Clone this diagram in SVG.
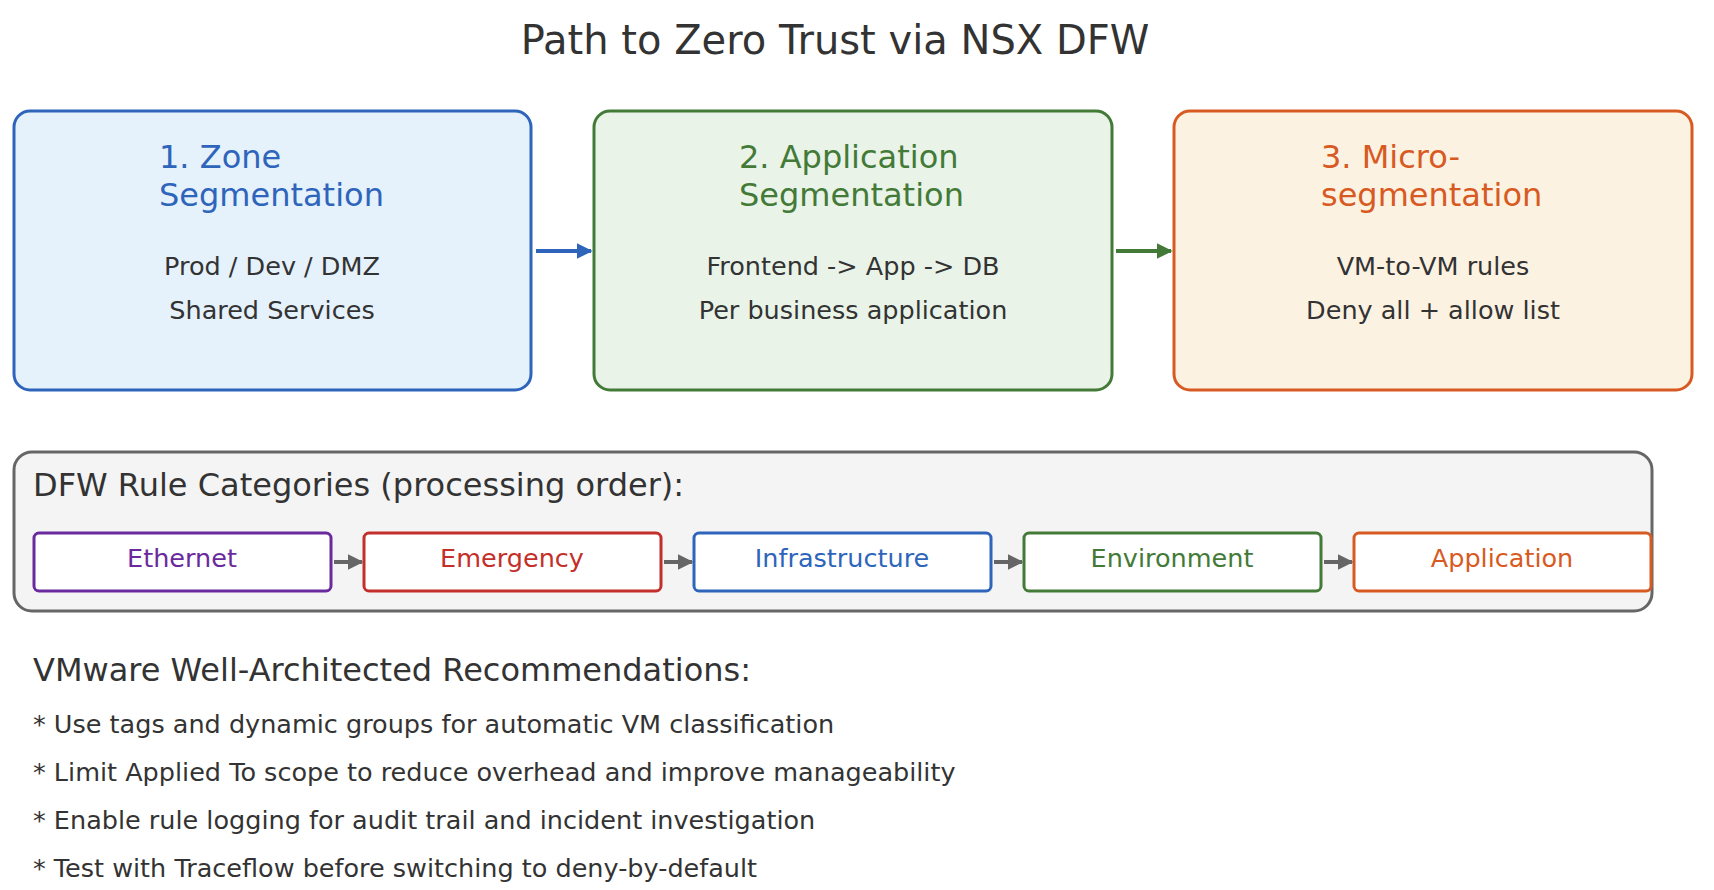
<svg xmlns="http://www.w3.org/2000/svg" width="1714" height="890" viewBox="0 0 1714 890">
<style>
text{font-family:"DejaVu Sans",sans-serif;fill:#333}
.t{font-size:32px}
.b{font-size:25.5px;text-anchor:middle}
.c{font-size:25.5px;text-anchor:middle;dominant-baseline:central}
.chip{fill:#fff;stroke-width:3}
</style>
<defs>
<marker id="ab" viewBox="0 0 10 10" refX="9" refY="5" markerWidth="4" markerHeight="4" orient="auto"><path d="M0,0L10,5L0,10z" fill="#2e65bb"/></marker>
<marker id="ag" viewBox="0 0 10 10" refX="9" refY="5" markerWidth="4" markerHeight="4" orient="auto"><path d="M0,0L10,5L0,10z" fill="#437a37"/></marker>
<marker id="ay" viewBox="0 0 10 10" refX="9" refY="5" markerWidth="4" markerHeight="4" orient="auto"><path d="M0,0L10,5L0,10z" fill="#666"/></marker>
</defs>
<rect width="1714" height="890" fill="#fff"/>
<text x="835" y="54" text-anchor="middle" style="font-size:40px">Path to Zero Trust via NSX DFW</text>
<g id="zone">
<rect x="14" y="111" width="517" height="279" rx="16" fill="#e5f1fb" stroke="#2e65bb" stroke-width="3"/>
<text class="t" x="159" y="168" style="fill:#2e65bb">1. Zone</text>
<text class="t" x="159" y="206" style="fill:#2e65bb">Segmentation</text>
<text class="b" x="272" y="275">Prod / Dev / DMZ</text>
<text class="b" x="272" y="319">Shared Services</text>
</g>
<g id="app">
<rect x="594" y="111" width="518" height="279" rx="16" fill="#e9f3e8" stroke="#437a37" stroke-width="3"/>
<text class="t" x="739" y="168" style="fill:#437a37">2. Application</text>
<text class="t" x="739" y="206" style="fill:#437a37">Segmentation</text>
<text class="b" x="853" y="275">Frontend -&gt; App -&gt; DB</text>
<text class="b" x="853" y="319">Per business application</text>
</g>
<g id="micro">
<rect x="1174" y="111" width="518" height="279" rx="16" fill="#fcf2e2" stroke="#d85a23" stroke-width="3"/>
<text class="t" x="1321" y="168" style="fill:#d85a23">3. Micro-</text>
<text class="t" x="1321" y="206" style="fill:#d85a23">segmentation</text>
<text class="b" x="1433" y="275">VM-to-VM rules</text>
<text class="b" x="1433" y="319">Deny all + allow list</text>
</g>
<g id="panel">
<rect x="14" y="452" width="1638" height="159" rx="18" fill="#f4f4f4" stroke="#666" stroke-width="3"/>
<text x="33" y="496" style="font-size:32px">DFW Rule Categories (processing order):</text>
</g>
<g id="ethernet"><rect class="chip" x="34" y="533" width="297" height="58" rx="5" stroke="#6a2a9e"/><text class="c" x="182" y="558" style="fill:#6a2a9e">Ethernet</text></g>
<g id="emergency"><rect class="chip" x="364" y="533" width="297" height="58" rx="5" stroke="#c32f2a"/><text class="c" x="512" y="558" style="fill:#c32f2a">Emergency</text></g>
<g id="infrastructure"><rect class="chip" x="694" y="533" width="297" height="58" rx="5" stroke="#2e65bb"/><text class="c" x="842" y="558" style="fill:#2e65bb">Infrastructure</text></g>
<g id="environment"><rect class="chip" x="1024" y="533" width="297" height="58" rx="5" stroke="#437a37"/><text class="c" x="1172" y="558" style="fill:#437a37">Environment</text></g>
<g id="application"><rect class="chip" x="1354" y="533" width="297" height="58" rx="5" stroke="#d85a23"/><text class="c" x="1502" y="558" style="fill:#d85a23">Application</text></g>
<g id="connectors" fill="none">
<line x1="536" y1="251" x2="591" y2="251" stroke="#2e65bb" stroke-width="4" marker-end="url(#ab)"/>
<line x1="1116" y1="251" x2="1171" y2="251" stroke="#437a37" stroke-width="4" marker-end="url(#ag)"/>
<line x1="334" y1="562" x2="362" y2="562" stroke="#666" stroke-width="4" marker-end="url(#ay)"/>
<line x1="664" y1="562" x2="692" y2="562" stroke="#666" stroke-width="4" marker-end="url(#ay)"/>
<line x1="994" y1="562" x2="1022" y2="562" stroke="#666" stroke-width="4" marker-end="url(#ay)"/>
<line x1="1324" y1="562" x2="1352" y2="562" stroke="#666" stroke-width="4" marker-end="url(#ay)"/>
</g>
<text x="33" y="681" style="font-size:32px">VMware Well-Architected Recommendations:</text>
<g style="font-size:25.5px">
<text x="33" y="733">* Use tags and dynamic groups for automatic VM classification</text>
<text x="33" y="781">* Limit Applied To scope to reduce overhead and improve manageability</text>
<text x="33" y="829">* Enable rule logging for audit trail and incident investigation</text>
<text x="33" y="877">* Test with Traceflow before switching to deny-by-default</text>
</g>
</svg>
